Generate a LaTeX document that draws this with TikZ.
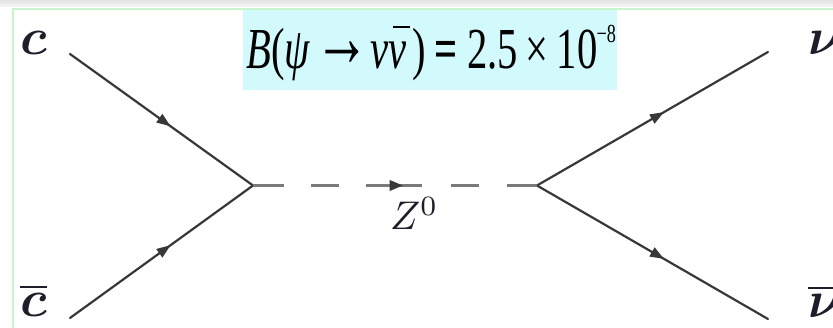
\documentclass[tikz,border=0pt]{standalone}
\usepackage{fontspec}
\newfontfamily\eqfont{Liberation Serif}
\usetikzlibrary{arrows.meta,decorations.markings}
\definecolor{boxcyan}{HTML}{D2FAFC}
\definecolor{framegreen}{HTML}{C8F5CC}
\definecolor{linegray}{HTML}{383838}
\definecolor{dashgray}{HTML}{7A7A7A}
\definecolor{labelink}{HTML}{1E1E2A}
\newcommand{\qlab}[1]{\scalebox{5.2}{\boldmath$#1$}}
\newcommand{\zlab}[1]{\scalebox{4}{$#1$}}
\newcommand{\barnu}{\makebox[0pt][l]{\hspace{0.1em}\raisebox{0.7em}{\rule{0.42em}{0.045em}}}\textit{ν}}
\begin{document}
\begin{tikzpicture}[x=1pt,y=-1pt,
  fermion/.style={draw,color=linegray,line width=2.2pt,line cap=round,
    postaction={decorate},
    decoration={markings,mark=at position 0.55 with {\arrow{Triangle[length=14pt,width=10pt]}}}},
  boson/.style={draw,color=dashgray,line width=3.6pt,
    dash pattern=on 31pt off 27pt on 28pt off 27pt on 56pt off 29pt on 28pt off 28pt on 32pt off 10pt,
    postaction={decorate},
    decoration={markings,mark=at position 0.53 with {\arrow[color=linegray]{Triangle[length=14pt,width=10pt]}}}},
  quark/.style={inner sep=0pt,text=labelink},
  zlabel/.style={inner sep=0pt,text=labelink},
]
\useasboundingbox (0,0) rectangle (833,328);
\clip (0,0) rectangle (833,328);
% top band and frame
\shade[top color=gray!22,bottom color=gray!6] (0,0) rectangle (833,7);
\draw[framegreen,line width=2pt] (13,332) -- (13,9) -- (840,9);
% equation box
\node[fill=boxcyan,inner sep=0pt,minimum width=374pt,minimum height=80pt] (eqbox) at (430,50) {};
\node[anchor=base west,inner sep=0pt] (eq) at (246,69)
  {\scalebox{0.7}[1]{\fontsize{58}{60}\selectfont\eqfont{\itshape B}(\textit{ψ}\hspace{0.1em}\raisebox{0.04em}{\scalebox{1.37}[1.5]{→}}\hspace{0.02em}\textit{ν}\barnu\hspace{0.14em})\hspace{0.2em}\textbf{=}\hspace{0.24em}2.5\hspace{0.2em}×\hspace{0.2em}10\hspace{-0.02em}\raisebox{0.45em}{\fontsize{26}{28}\selectfont −8}}};
% vertices and ends
\coordinate (L) at (253,185.5);
\coordinate (R) at (537,185.5);
\coordinate (c1) at (70,54);
\coordinate (c2) at (70,318);
\coordinate (n1) at (768,52);
\coordinate (n2) at (768,319);
% lines
\draw[fermion] (c1) -- (L);
\draw[fermion] (c2) -- (L);
\draw[fermion] (R) -- (n1);
\draw[fermion] (R) -- (n2);
\draw[boson] (L) -- (R);
% labels
\node[quark,anchor=base west] (lc) at (20,55) {\qlab{c}};
\node[quark,anchor=base west] (lcb) at (20,317) {\qlab{\overline{c}}};
\node[quark,anchor=base west] (lnu) at (808,55) {\qlab{\nu}};
\node[quark,anchor=base west] (lnub) at (808,318) {\qlab{\overline{\nu}}};
\node[zlabel,anchor=base west] (lz) at (390,230) {\zlab{Z^0}};
\end{tikzpicture}
\end{document}
